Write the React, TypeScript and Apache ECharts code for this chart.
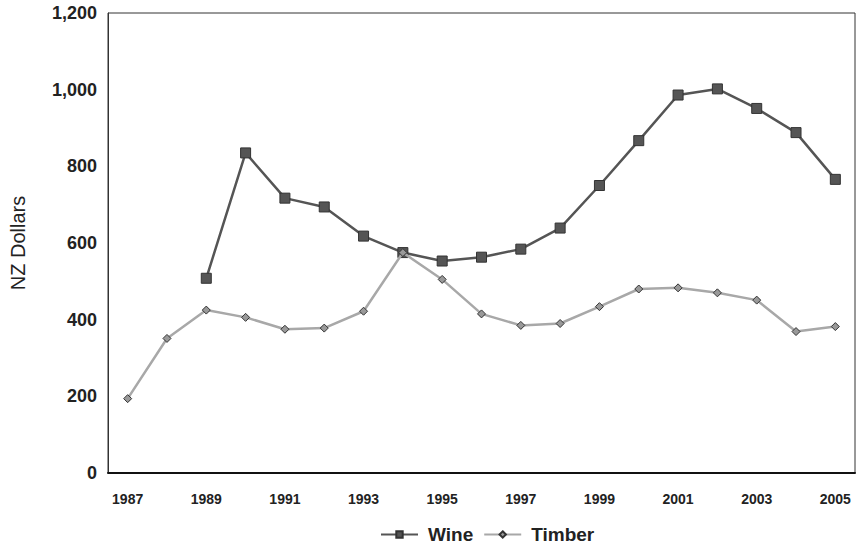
import React, { useEffect, useRef } from "react";
import * as echarts from "echarts";

const years = ["1987","1988","1989","1990","1991","1992","1993","1994","1995","1996","1997","1998","1999","2000","2001","2002","2003","2004","2005"];
const wine = [null, null, 508, 835, 717, 694, 618, 575, 553, 563, 584, 639, 750, 867, 986, 1002, 951, 888, 766];
const timber = [194, 351, 425, 406, 375, 378, 422, 575, 505, 415, 385, 390, 434, 480, 483, 470, 451, 369, 382];

export default function App() {
  const ref = useRef<HTMLDivElement>(null);
  useEffect(() => {
    const chart = echarts.init(ref.current!, null, { renderer: "svg" });
    chart.setOption({
      animation: false,
      backgroundColor: "#fff",
      grid: { left: 107, right: 3, top: 13, bottom: 79, show: true, borderColor: "#333", borderWidth: 1 },
      legend: {
        bottom: 3,
        left: 375,
        itemWidth: 37,
        itemHeight: 8,
        itemGap: 10,
        textStyle: { fontFamily: "Liberation Sans, Arial, sans-serif", fontWeight: "bold", fontSize: 19, color: "#222", padding: [0, 0, 0, 5] },
        data: ["Wine", "Timber"],
      },
      xAxis: {
        type: "category",
        data: years,
        boundaryGap: true,
        axisLine: { lineStyle: { color: "#111", width: 2 } },
        axisTick: { show: false },
        axisLabel: {
          interval: 1,
          margin: 19,
          fontFamily: "Liberation Sans Narrow, Liberation Sans, Arial, sans-serif",
          fontWeight: "bold",
          fontSize: 14,
          color: "#222",
        },
      },
      yAxis: {
        type: "value",
        min: 0,
        max: 1200,
        interval: 200,
        name: "NZ Dollars",
        nameLocation: "middle",
        nameGap: 80,
        nameTextStyle: { fontFamily: "Liberation Sans, Arial, sans-serif", fontSize: 20, color: "#222" },
        splitLine: { show: false },
        axisLine: { show: true, lineStyle: { color: "#333", width: 1 } },
        axisTick: { show: false },
        axisLabel: {
          margin: 11,
          fontFamily: "Liberation Sans, Arial, sans-serif",
          fontWeight: "bold",
          fontSize: 18,
          color: "#222",
          formatter: (v: number) => v.toLocaleString("en-US"),
        },
      },
      series: [
        {
          name: "Wine",
          type: "line",
          data: wine,
          connectNulls: false,
          symbol: "rect",
          symbolSize: 10,
          lineStyle: { color: "#555", width: 2.5 },
          itemStyle: { color: "#555", borderColor: "#333", borderWidth: 1 },
          z: 3,
        },
        {
          name: "Timber",
          type: "line",
          data: timber,
          symbol: "diamond",
          symbolSize: 8,
          lineStyle: { color: "#a8a8a8", width: 2.5 },
          itemStyle: { color: "#999", borderColor: "#333", borderWidth: 1 },
          z: 4,
        },
      ],
    });
    return () => chart.dispose();
  }, []);
  return <div ref={ref} style={{ position: "fixed", left: 0, top: 0, width: 858, height: 552 }} />;
}
